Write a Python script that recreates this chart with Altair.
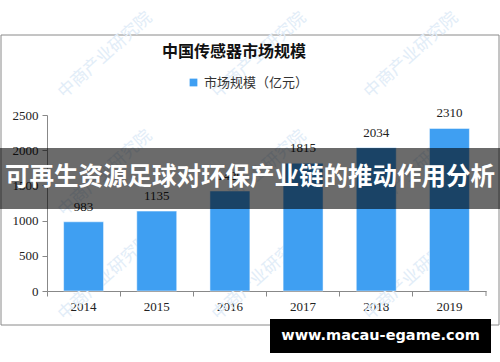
import altair as alt
import pandas as pd

years = ["2014", "2015", "2016", "2017", "2018", "2019"]
values = [983, 1135, 1420, 1815, 2034, 2310]
series_name = "市场规模（亿元）"
chart_title = "中国传感器市场规模"
banner_text = "可再生资源足球对环保产业链的推动作用分析"
site_text = "www.macau-egame.com"
watermark = "中商产业研究院"
y_ticks = [0, 500, 1000, 1500, 2000, 2500]

BAR = "#3F9FF2"
SERIF = "Liberation Serif"
CJK = "Noto Sans CJK SC"

df = pd.DataFrame({"year": years, "value": values, "series": [series_name] * len(years)})
one = alt.InlineData(values=[{"k": 0}])

x_scale = alt.Scale(paddingInner=0, paddingOuter=0)
x_axis = alt.Axis(title=None, labelAngle=0, bandPosition=0, labelFont=SERIF,
                  labelFontSize=13, labelColor="#222", domainColor="#888",
                  tickColor="#888", tickSize=5, labelPadding=4)
y_scale = alt.Scale(domain=[0, 2500], nice=False)
y_axis = alt.Axis(title=None, values=y_ticks, grid=False, format="d", labelOverlap=False,
                  labelFont=SERIF, labelFontSize=13, labelColor="#222",
                  domainColor="#888", tickColor="#888", tickSize=5, labelPadding=4)

x_enc = alt.X("year:O", sort=years, scale=x_scale, axis=x_axis)
y_enc = alt.Y("value:Q", scale=y_scale, axis=y_axis)

border = alt.Chart(one).mark_rect(fill="white", fillOpacity=0, stroke="#8a8a8a", strokeWidth=1).encode(
    x=alt.value(-46), x2=alt.value(452), y=alt.value(-80), y2=alt.value(210))

# faint watermarks
wm_pos = [(14, -20), (168, -20), (320, -20), (14, 98), (168, 98), (320, 98), (14, 202), (168, 202), (320, 202)]
wm_df = pd.DataFrame({"wx": [p[0] for p in wm_pos], "wy": [p[1] for p in wm_pos], "t": [watermark] * len(wm_pos)})
wm_layer = alt.Chart(wm_df).mark_text(angle=318, align="left", baseline="middle", font=CJK,
                                      fontSize=17, color="#e2edf8").encode(
    x=alt.X("wx:Q", scale=None), y=alt.Y("wy:Q", scale=None), text="t:N")

bars = alt.Chart(df).mark_bar(width=alt.RelativeBandSize(0.546), stroke="white", strokeWidth=0.5).encode(
    x=x_enc, y=y_enc,
    color=alt.Color("series:N", scale=alt.Scale(range=[BAR]),
                    legend=alt.Legend(title=None, orient="none", legendX=140, legendY=-39,
                                      symbolType="square", symbolSize=60, symbolStrokeWidth=0,
                                      labelFont=CJK, labelFontSize=13, labelColor="#333")))

labels = alt.Chart(df).mark_text(font=SERIF, fontSize=13, color="#222", baseline="bottom", dy=-8).encode(
    x=x_enc, y=y_enc, text="value:Q")

end_tick = alt.Chart(df).transform_filter(alt.datum.year == years[-1]).mark_rule(color="#888").encode(
    x=alt.X("year:O", sort=years, bandPosition=1, axis=x_axis, scale=x_scale),
    y=alt.value(176), y2=alt.value(181))

title = alt.Chart(one).mark_text(text=chart_title, font=CJK, fontSize=16, fontWeight="bold",
                                 color="#111").encode(x=alt.value(187), y=alt.value(-63))

band = alt.Chart(one).mark_rect(fill="black", opacity=0.58).encode(
    x=alt.value(-47), x2=alt.value(453), y=alt.value(33), y2=alt.value(94))
band_text = alt.Chart(one).mark_text(text=banner_text, font=CJK, fontSize=24.5, fontWeight="bold",
                                     color="white").encode(x=alt.value(203), y=alt.value(63))

site_box = alt.Chart(one).mark_rect(fill="black").encode(
    x=alt.value(223), x2=alt.value(444), y=alt.value(204), y2=alt.value(238))
site = alt.Chart(one).mark_text(text=site_text, font="DejaVu Sans", fontSize=14.5, fontWeight="bold",
                                color="white").encode(x=alt.value(333.5), y=alt.value(221))

chart = alt.layer(border, wm_layer, bars, labels, end_tick, title, band, band_text, site_box, site).properties(
    width=439, height=176,
    autosize=alt.AutoSizeParams(type="none"),
    padding={"left": 47, "top": 115, "right": 14, "bottom": 71},
    background="white",
).configure_view(stroke=None)

chart.save("out.html", embed_options={"renderer": "svg", "actions": False})
